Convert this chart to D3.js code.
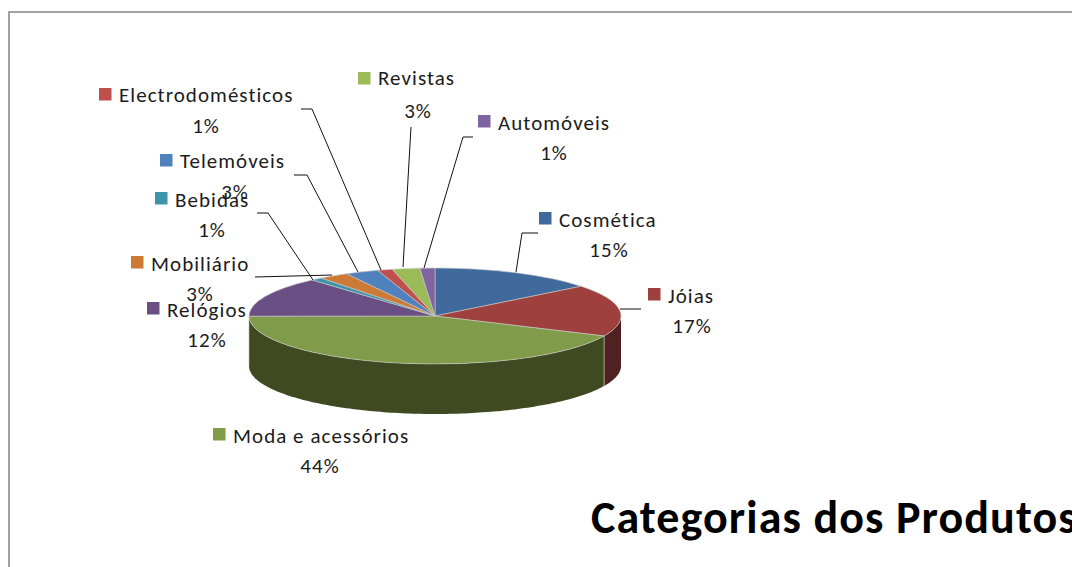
<!DOCTYPE html>
<html>
<head>
<meta charset="utf-8">
<script src="https://cdn.jsdelivr.net/npm/d3@7"></script>
<style>
  html, body { margin: 0; padding: 0; background: #fff; overflow: hidden; }
  svg { display: block; }
  text { font-family: Carlito, Lato, "Open Sans", sans-serif; fill: #1c1c1c; }
</style>
</head>
<body>
<svg id="chart"></svg>
<script>
// chart data, clockwise from 12 o'clock
const categories = ["Cosmética", "Jóias", "Moda e acessórios", "Relógios", "Bebidas", "Mobiliário", "Telemóveis", "Electrodomésticos", "Revistas", "Automóveis"]
// printed percentages
const percents = [15, 17, 44, 12, 1, 3, 3, 1, 3, 1]
// slice share as drawn (the 3d view stretches the printed values)
const sliceShares = [14.4, 17.5, 43.2, 13.6, 1.0, 2.6, 2.9, 1.3, 2.4, 1.3]
const chartTitle = "Categorias dos Produtos"

const topColors = ["#416a9c", "#9e413e", "#809c4a", "#6a4f85", "#3d93aa", "#cc7a36", "#4f81bd", "#c0504d", "#9bbb59", "#8064a2"]
const sideColors = ["#27405e", "#4f2120", "#404a22", "#3a2b4a", "#215463", "#7a4820", "#2c4a70", "#73302e", "#5c7035", "#4c3b61"]

// label layout: [square x, square y, text baseline, percent centre x, percent baseline]
const labelLayout = [
  [539, 212, 227, 609, 257],
  [648, 288, 303, 692, 333],
  [213, 428, 443, 320, 473],
  [147, 302, 317, 207, 347],
  [155, 192, 207, 212, 237],
  [131, 256, 271, 200, 301],
  [160, 154, 168, 235, 199],
  [99, 88, 102, 206, 133],
  [358, 72, 85, 418, 118],
  [478, 115, 130, 554, 160]
]

// leader lines from label to slice
const leaders = [
  [[538, 233], [522, 233], [516, 272]],
  [[641, 309], [620, 309]],
  [[255, 277], [332, 275]],
  [[257, 213], [268, 213], [313, 280]],
  [[294, 175], [307, 175], [358, 272]],
  [[301, 109], [312, 109], [381, 270]],
  [[411, 127], [403, 267]],
  [[473, 137], [463, 137], [424, 268]]
]

const width = 1072
const height = 567
const cx = 435
const cy = 316
const rx = 186
const ry = 48
const depth = 50

const svg = d3.select("#chart").attr("width", width).attr("height", height)

// only the top and left edge of the frame are in the picture
svg.append("rect")
  .attr("x", 9).attr("y", 12)
  .attr("width", width + 40).attr("height", height + 40)
  .attr("fill", "#fff").attr("stroke", "#8c8c8c").attr("stroke-width", 1.6)

const pie = d3.pie().sort(null).value(d => d)
const slices = pie(sliceShares)

// point on the rim for a pie angle (0 = top, clockwise)
const rimX = a => cx + rx * Math.sin(a)
const rimY = a => cy - ry * Math.cos(a)

// side wall, only the front half of the rim shows
const front = svg.append("g")
slices.forEach((s, i) => {
  const a0 = Math.max(s.startAngle, Math.PI / 2)
  const a1 = Math.min(s.endAngle, Math.PI * 3 / 2)
  if (a1 <= a0) return
  const angles = d3.range(a0, a1, 0.02).concat([a1])
  const wall = d3.area()
    .x(a => rimX(a))
    .y0(a => rimY(a))
    .y1(a => rimY(a) + depth)
  front.append("path")
    .attr("d", wall(angles))
    .attr("fill", sideColors[i])
})

// light edge between jóias and moda on the wall
const seam = slices[1].endAngle
svg.append("line")
  .attr("x1", rimX(seam)).attr("y1", rimY(seam))
  .attr("x2", rimX(seam)).attr("y2", rimY(seam) + depth)
  .attr("stroke", "#b9bdb0").attr("stroke-width", 0.8)

// left end of the wall
const leftEdge = slices[2].endAngle
svg.append("line")
  .attr("x1", rimX(leftEdge)).attr("y1", rimY(leftEdge))
  .attr("x2", rimX(leftEdge)).attr("y2", rimY(leftEdge) + depth)
  .attr("stroke", "#b9bdb0").attr("stroke-width", 0.6)

// top face, unit arc squashed into the ellipse
const arc = d3.arc().innerRadius(0).outerRadius(rx)
svg.append("g")
  .attr("transform", `translate(${cx},${cy}) scale(1,${ry / rx})`)
  .selectAll("path")
  .data(slices)
  .enter()
  .append("path")
    .attr("d", arc)
    .attr("fill", (d, i) => topColors[i])
    .attr("stroke", "#c9c9c9")
    .attr("stroke-width", 0.6)
    .attr("vector-effect", "non-scaling-stroke")

// leader lines
const leaderLine = d3.line()
svg.append("g")
  .selectAll("path")
  .data(leaders)
  .enter()
  .append("path")
    .attr("d", leaderLine)
    .attr("fill", "none")
    .attr("stroke", "#111")
    .attr("stroke-width", 1)

// labels
const labels = svg.append("g")
categories.forEach((name, i) => {
  const [sx, sy, base, pctX, pctBase] = labelLayout[i]
  labels.append("rect")
    .attr("x", sx).attr("y", sy)
    .attr("width", 12.5).attr("height", 12.5)
    .attr("fill", topColors[i])
  labels.append("text")
    .attr("x", sx + 20).attr("y", base)
    .attr("font-size", 21)
    .attr("letter-spacing", 1.05)
    .text(name)
  labels.append("text")
    .attr("x", pctX).attr("y", pctBase)
    .attr("text-anchor", "middle")
    .attr("font-size", 21)
    .attr("letter-spacing", 1)
    .text(percents[i] + "%")
})

// title runs past the right edge in the reference too
svg.append("text")
  .attr("x", 591).attr("y", 533)
  .attr("font-size", 46)
  .attr("font-weight", 700)
  .attr("letter-spacing", 1.1)
  .style("fill", "#000")
  .text(chartTitle)
</script>
</body>
</html>
